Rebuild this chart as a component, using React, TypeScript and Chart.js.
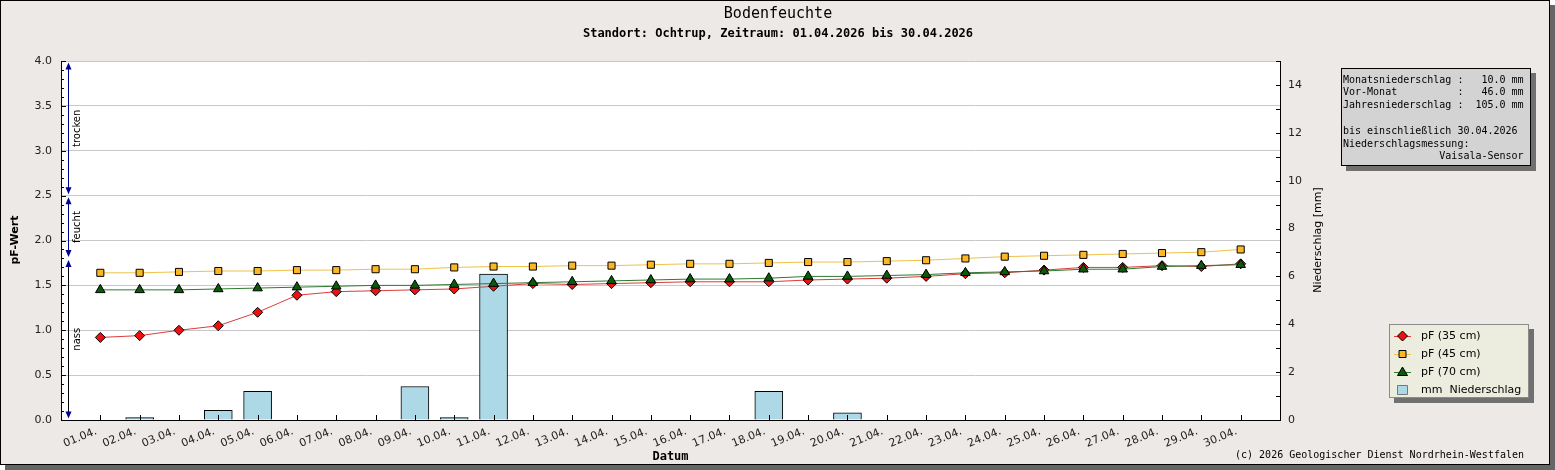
import { useEffect, useRef } from 'react'
import { Chart, registerables, type Plugin } from 'chart.js'

Chart.register(...registerables)

// ─── Data ────────────────────────────────────────────────────────────────────

const DAYS = [
  '01.04.', '02.04.', '03.04.', '04.04.', '05.04.', '06.04.', '07.04.', '08.04.', '09.04.', '10.04.',
  '11.04.', '12.04.', '13.04.', '14.04.', '15.04.', '16.04.', '17.04.', '18.04.', '19.04.', '20.04.',
  '21.04.', '22.04.', '23.04.', '24.04.', '25.04.', '26.04.', '27.04.', '28.04.', '29.04.', '30.04.',
]

const PF_35 = [
  0.92, 0.94, 1.00, 1.05, 1.20, 1.39, 1.43, 1.44, 1.45, 1.46,
  1.49, 1.52, 1.51, 1.52, 1.53, 1.54, 1.54, 1.54, 1.56, 1.57,
  1.58, 1.60, 1.63, 1.64, 1.67, 1.70, 1.70, 1.72, 1.71, 1.74,
]
const PF_45 = [
  1.64, 1.64, 1.65, 1.66, 1.66, 1.67, 1.67, 1.68, 1.68, 1.70,
  1.71, 1.71, 1.72, 1.72, 1.73, 1.74, 1.74, 1.75, 1.76, 1.76,
  1.77, 1.78, 1.80, 1.82, 1.83, 1.84, 1.85, 1.86, 1.87, 1.90,
]
const PF_70 = [
  1.45, 1.45, 1.45, 1.46, 1.47, 1.48, 1.49, 1.50, 1.50, 1.51,
  1.52, 1.53, 1.54, 1.55, 1.56, 1.57, 1.57, 1.58, 1.60, 1.60,
  1.61, 1.62, 1.64, 1.65, 1.66, 1.68, 1.68, 1.71, 1.72, 1.73,
]
const RAIN_MM = [
  0, 0.1, 0, 0.4, 1.2, 0, 0, 0, 1.4, 0.1,
  6.1, 0, 0, 0, 0, 0, 0, 1.2, 0, 0.3,
  0, 0, 0, 0, 0, 0, 0, 0, 0, 0,
]

const ZONE_NAMES = ['trocken', 'feucht', 'nass']
const ZONE_FROM  = [2.5, 1.8, 0]
const ZONE_TO    = [4.0, 2.5, 1.8]

const TITLE    = 'Bodenfeuchte'
const SUBTITLE = 'Standort: Ochtrup, Zeitraum: 01.04.2026 bis 30.04.2026'
const INFO_LINES = [
  'Monatsniederschlag :   10.0 mm',
  'Vor-Monat          :   46.0 mm',
  'Jahresniederschlag :  105.0 mm',
  '',
  'bis einschließlich 30.04.2026',
  'Niederschlagsmessung:',
  '                Vaisala-Sensor',
]
const COPYRIGHT = '(c) 2026 Geologischer Dienst Nordrhein-Westfalen'

// ─── Style ───────────────────────────────────────────────────────────────────

const SANS = 'DejaVu Sans'
const MONO = 'DejaVu Sans Mono'
const NAVY = '#000090'

type Marker = 'rectRot' | 'rect' | 'triangle' | 'box'

function drawMarker(ctx: CanvasRenderingContext2D, kind: Marker, x: number, y: number, fill: string) {
  ctx.save()
  ctx.beginPath()
  if (kind === 'rectRot') {
    ctx.moveTo(x, y - 5); ctx.lineTo(x + 5, y); ctx.lineTo(x, y + 5); ctx.lineTo(x - 5, y)
  } else if (kind === 'rect') {
    ctx.rect(x - 3.5, y - 3.5, 7, 7)
  } else if (kind === 'triangle') {
    ctx.moveTo(x, y - 5); ctx.lineTo(x + 5, y + 3.5); ctx.lineTo(x - 5, y + 3.5)
  } else {
    ctx.rect(x - 5, y - 4.5, 10, 9)
  }
  ctx.closePath()
  ctx.fillStyle = fill
  ctx.fill()
  ctx.lineWidth = 1
  ctx.strokeStyle = kind === 'box' ? '#777' : '#000'
  ctx.stroke()
  ctx.restore()
}

function text(ctx: CanvasRenderingContext2D, s: string, x: number, y: number, font: string,
  align: CanvasTextAlign = 'center', rot = 0) {
  ctx.save()
  ctx.translate(x, y)
  if (rot) ctx.rotate(rot)
  ctx.font = font
  ctx.fillStyle = '#000'
  ctx.textAlign = align
  ctx.textBaseline = 'middle'
  ctx.fillText(s, 0, 0)
  ctx.restore()
}

const decor: Plugin = {
  id: 'decor',
  beforeDraw(chart) {
    const { ctx, chartArea: a } = chart
    ctx.save()
    ctx.fillStyle = '#fff'
    ctx.fillRect(a.left, a.top, a.right - a.left, a.bottom - a.top)
    ctx.restore()
  },
  afterDraw(chart) {
    const { ctx, chartArea: a } = chart
    const x = chart.scales.x
    const y = chart.scales.y
    const y1 = chart.scales.y1

    // inner tick marks
    ctx.save()
    ctx.strokeStyle = '#000'
    ctx.lineWidth = 1
    ctx.beginPath()
    for (const t of y.ticks) {
      const py = Math.round(y.getPixelForValue(t.value)) + 0.5
      const major = Math.abs(t.value * 2 - Math.round(t.value * 2)) < 1e-6
      ctx.moveTo(a.left, py); ctx.lineTo(a.left + (major ? 5 : 3), py)
    }
    for (const t of y1.ticks) {
      const py = Math.round(y1.getPixelForValue(t.value)) + 0.5
      ctx.moveTo(a.right - 4, py); ctx.lineTo(a.right, py)
    }
    DAYS.forEach((_, i) => {
      const px = Math.round(x.getPixelForValue(i + 1)) + 0.5
      ctx.moveTo(px, a.bottom); ctx.lineTo(px, a.bottom - 5)
    })
    ctx.stroke()
    ctx.restore()

    // moisture zones
    const zx = a.left + 7.5
    ZONE_NAMES.forEach((name, i) => {
      const top = y.getPixelForValue(ZONE_TO[i]) + 1.5
      const bot = y.getPixelForValue(ZONE_FROM[i]) - 1.5
      ctx.save()
      ctx.strokeStyle = name === 'nass' ? '#000' : NAVY
      ctx.lineWidth = 1
      ctx.beginPath()
      ctx.moveTo(zx, top + 4); ctx.lineTo(zx, bot - 4)
      ctx.stroke()
      ctx.fillStyle = NAVY
      ctx.beginPath()
      ctx.moveTo(zx, top); ctx.lineTo(zx + 3, top + 7); ctx.lineTo(zx - 3, top + 7)
      ctx.closePath(); ctx.fill()
      ctx.beginPath()
      ctx.moveTo(zx, bot); ctx.lineTo(zx + 3, bot - 7); ctx.lineTo(zx - 3, bot - 7)
      ctx.closePath(); ctx.fill()
      ctx.restore()
      text(ctx, name, zx + 9, (top + bot) / 2, `10px "${SANS}"`, 'center', -Math.PI / 2)
    })

    // titles
    text(ctx, TITLE, 778, 14.5, `15px "${MONO}"`)
    text(ctx, SUBTITLE, 778, 34, `bold 12px "${MONO}"`)
    text(ctx, 'pF-Wert', 15, 240, `bold 11px "${SANS}"`, 'center', -Math.PI / 2)
    text(ctx, 'Niederschlag [mm]', 1318, 240, `11px "${SANS}"`, 'center', -Math.PI / 2)
    text(ctx, 'Datum', (a.left + a.right) / 2, 457, `bold 12px "${MONO}"`)
    text(ctx, COPYRIGHT, 1524, 455, `10px "${MONO}"`, 'right')

    // info box
    ctx.save()
    ctx.fillStyle = '#707070'
    ctx.fillRect(1346, 73, 190, 98)
    ctx.fillStyle = '#d3d3d3'
    ctx.fillRect(1341, 68, 190, 98)
    ctx.strokeStyle = '#000'
    ctx.strokeRect(1341.5, 68.5, 189, 97)
    ctx.restore()
    INFO_LINES.forEach((line, i) => {
      if (line) text(ctx, line, 1343, 80 + i * 12.8, `10px "${MONO}"`, 'left')
    })

    // legend
    ctx.save()
    ctx.fillStyle = '#707070'
    ctx.fillRect(1394, 329, 140, 74)
    ctx.fillStyle = '#ededdf'
    ctx.fillRect(1389, 324, 140, 74)
    ctx.strokeStyle = '#8a8a8a'
    ctx.strokeRect(1389.5, 324.5, 139, 73)
    ctx.restore()
    chart.data.datasets.forEach((ds: any, i) => {
      const ly = 336 + i * 18
      if (ds.type === 'line') {
        ctx.save()
        ctx.strokeStyle = ds.borderColor
        ctx.lineWidth = 1
        ctx.beginPath()
        ctx.moveTo(1394, ly + 0.5); ctx.lineTo(1411, ly + 0.5)
        ctx.stroke()
        ctx.restore()
        drawMarker(ctx, ds.pointStyle, 1402.5, ly, ds.pointBackgroundColor)
      } else {
        drawMarker(ctx, 'box', 1402.5, ly, ds.backgroundColor)
      }
      text(ctx, ds.label, 1421, ly, `11px "${SANS}"`, 'left')
    })
  },
}

// ─── Component ───────────────────────────────────────────────────────────────

export default function App() {
  const canvasRef = useRef<HTMLCanvasElement>(null)

  useEffect(() => {
    document.body.style.margin = '0'
    const canvas = canvasRef.current
    if (!canvas) return

    const pts = (arr: number[]) => arr.map((v, i) => ({ x: i + 1, y: v }))
    const tickFont = { family: SANS, size: 11 }

    const chart = new Chart(canvas, {
      type: 'line',
      data: {
        datasets: [
          {
            type: 'line', label: 'pF (35 cm)', data: pts(PF_35), yAxisID: 'y', order: 2,
            borderColor: '#dd3c3c', borderWidth: 1, pointStyle: 'rectRot', pointRadius: 5,
            pointBackgroundColor: '#ee1111', pointBorderColor: '#000', pointBorderWidth: 1,
          },
          {
            type: 'line', label: 'pF (45 cm)', data: pts(PF_45), yAxisID: 'y', order: 3,
            borderColor: '#efc24a', borderWidth: 1, pointStyle: 'rect', pointRadius: 5,
            pointBackgroundColor: '#fbb726', pointBorderColor: '#000', pointBorderWidth: 1,
          },
          {
            type: 'line', label: 'pF (70 cm)', data: pts(PF_70), yAxisID: 'y', order: 1,
            borderColor: '#2f7a2f', borderWidth: 1, pointStyle: 'triangle', pointRadius: 5.5,
            pointBackgroundColor: '#0b5a0b', pointBorderColor: '#000', pointBorderWidth: 1,
          },
          {
            type: 'bar', label: 'mm  Niederschlag', yAxisID: 'y1', order: 10,
            data: RAIN_MM.map((v, i) => ({ x: i + 1, y: v > 0 ? v : null })),
            backgroundColor: '#add8e6', borderColor: '#000', borderWidth: 1,
            borderSkipped: 'start', barThickness: 28,
          },
        ] as any,
      },
      options: {
        animation: false,
        responsive: true,
        maintainAspectRatio: false,
        events: [],
        layout: { padding: { top: 61, left: 0, right: 0, bottom: 0 } },
        plugins: { legend: { display: false }, tooltip: { enabled: false }, title: { display: false } },
        scales: {
          x: {
            type: 'linear', min: 0, max: 31, offset: false,
            grid: { drawOnChartArea: false, drawTicks: false },
            border: { display: true, color: '#000' },
            ticks: {
              stepSize: 1, autoSkip: false, minRotation: 22, maxRotation: 22, padding: 5,
              labelOffset: -4, color: '#222', font: tickFont,
              callback: (v) => DAYS[Number(v) - 1] ?? '',
            },
            afterFit: (s) => { s.height = 50 },
          },
          y: {
            position: 'left', min: 0, max: 4,
            grid: {
              drawTicks: false,
              color: (c) => Math.abs(c.tick.value * 2 - Math.round(c.tick.value * 2)) < 1e-6 ? '#c8c8c8' : 'transparent',
            },
            border: { display: true, color: '#000' },
            ticks: {
              stepSize: 0.1, autoSkip: false, padding: 9, color: '#222', font: tickFont,
              callback: (v) => {
                const n = Number(v)
                return Math.abs(n * 2 - Math.round(n * 2)) < 1e-6 ? n.toFixed(1) : ''
              },
            },
            afterFit: (s) => { s.width = 61 },
          },
          y1: {
            position: 'right', min: 0, max: 15,
            grid: { drawOnChartArea: false, drawTicks: false },
            border: { display: true, color: '#000' },
            ticks: {
              stepSize: 1, autoSkip: false, padding: 8, color: '#222', font: tickFont,
              callback: (v) => (Number(v) % 2 === 0 ? String(v) : ''),
            },
            afterFit: (s) => { s.width = 275 },
          },
        },
      },
      plugins: [decor],
    })

    return () => chart.destroy()
  }, [])

  return (
    <div style={{ position: 'relative', width: 1555, height: 470 }}>
      <div
        style={{
          position: 'absolute', left: 0, top: 0, width: 1550, height: 465, boxSizing: 'border-box',
          border: '1px solid #000', background: '#ece9e6', boxShadow: '5px 5px 0 #666',
        }}
      />
      <div style={{ position: 'absolute', left: 0, top: 0, width: 1555, height: 470 }}>
        <canvas ref={canvasRef} />
      </div>
    </div>
  )
}
